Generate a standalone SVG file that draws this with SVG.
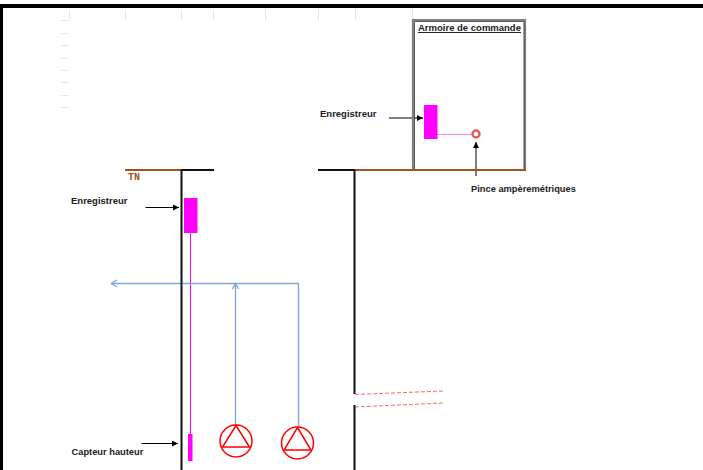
<svg xmlns="http://www.w3.org/2000/svg" width="703" height="470" viewBox="0 0 703 470">
<style>
text{font-family:"Liberation Sans",Arial,sans-serif;font-size:9.3px;font-weight:bold;fill:#1a1a1a}
.tick{stroke:#e6e6e6;stroke-width:1;fill:none}
.wall{stroke:#111;stroke-width:2;fill:none}
.ground{stroke:#a5501e;stroke-width:2;fill:none}
.arrow{stroke:#000;stroke-width:1;fill:none;marker-end:url(#ah)}
.pipe{stroke:#85a5d5;stroke-width:1.4;fill:none}
.mag{fill:#f0f}
.sig{stroke:#f0f;stroke-width:1;fill:none}
.pump{fill:none;stroke:#f00;stroke-width:1.5}
.dash{stroke:#f00;stroke-width:1;stroke-dasharray:4 2;fill:none;opacity:.6}
</style>
<defs>
<marker id="ah" markerWidth="7" markerHeight="7" refX="6" refY="3" orient="auto" markerUnits="userSpaceOnUse"><path d="M0 0L6 3L0 6z" fill="#000"/></marker>
</defs>
<rect width="703" height="470" fill="#fff"/>
<rect x="0" y="4" width="703" height="4" fill="#000"/>
<rect x="0" y="4" width="3" height="466" fill="#000"/>
<g id="ruler">
<path class="tick" d="M69.500 10V20M125.500 10V20M181.500 10V20M213.500 10V20M265.500 10V20M318.500 10V20M355.500 10V20M412.500 10V20"/>
<path class="tick" d="M61 20.500H69M61 33.500H69M61 45.500H69M61 58H69M61 70.500H69M61 82.500H69M61 95.500H69M61 107.500H69"/>
</g>
<g id="connectors">
<path class="arrow" d="M389 118H423"/>
<path class="arrow" d="M476 176V142"/>
<path class="arrow" d="M145.500 207.500H179"/>
<path class="arrow" d="M141.500 443.500H178"/>
<path d="M437 134.500H471" fill="none" stroke="#ff80ff" stroke-width="1.200"/>
<path class="sig" d="M190.500 232V435"/>
<path class="pipe" d="M298.500 427V283.500H111"/>
<path class="pipe" d="M111 283.500l6 -3.500M111 283.500l6 3.500"/>
<path class="pipe" d="M235.500 426V283"/>
<path class="pipe" d="M235.500 283l-3 6M235.500 283l3 6"/>
<path class="dash" d="M355 394.500L443 391"/>
<path class="dash" d="M355 407L443 403"/>
</g>
<g id="terrain">
<path class="ground" d="M125 170H181"/>
<path class="wall" d="M181 170H214M318 170H355"/>
<path class="ground" d="M355 170H526"/>
<path class="wall" d="M181.500 170V470"/>
<path class="wall" d="M354.500 170V394M354.500 405V470"/>
<text x="128" y="180" style="font-family:'Liberation Mono',monospace;font-weight:bold;fill:#a5501e;font-size:10px">TN</text>
</g>
<g id="armoire">
<path d="M413 169V20H525V169" fill="none" stroke="#808080" stroke-width="2.200"/>
<path d="M414.500 169V21.500H524V169" fill="none" stroke="#333" stroke-width="0.8"/>
<text x="418" y="31" text-decoration="underline" style="font-size:9.500px">Armoire de commande</text>
</g>
<g id="enregistreur-haut">
<rect class="mag" x="424" y="105" width="13.500" height="34"/>
<text x="320" y="117" style="font-size:9.500px">Enregistreur</text>
</g>
<g id="pince">
<circle cx="476" cy="134" r="4.500" fill="#fff"/>
<circle cx="476" cy="134" r="3.500" fill="none" stroke="#e04040" stroke-width="2.500" opacity=".85"/>
<text x="471" y="192">Pince ampèremétriques</text>
</g>
<g id="enregistreur-bas">
<rect class="mag" x="184" y="198" width="13.500" height="35"/>
<text x="71" y="204" style="font-size:9.500px">Enregistreur</text>
</g>
<g id="capteur">
<rect class="mag" x="188" y="434" width="4.500" height="27"/>
<text x="71.500" y="455">Capteur hauteur</text>
</g>
<g id="pompe-1">
<circle class="pump" cx="236" cy="441" r="16"/>
<path class="pump" d="M236 425.500L249.500 447H222.500z"/>
</g>
<g id="pompe-2">
<circle class="pump" cx="297.500" cy="443" r="16"/>
<path class="pump" d="M297.500 427.500L311 450H284z"/>
</g>
</svg>
